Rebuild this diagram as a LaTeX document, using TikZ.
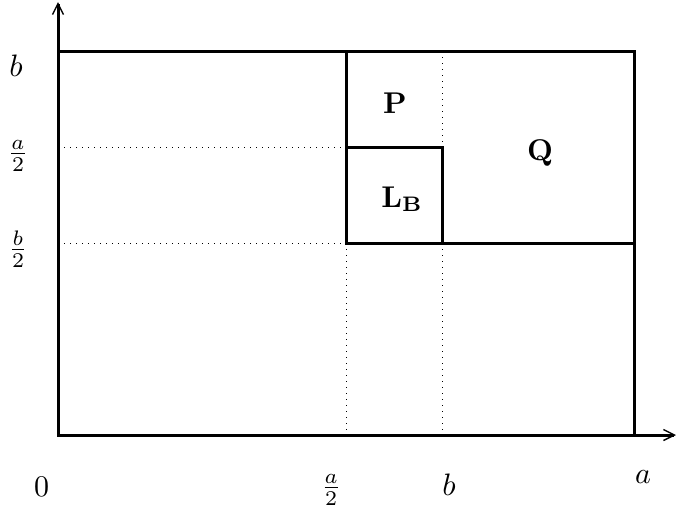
\documentclass[tikz,border=0pt]{standalone}
\usepackage{graphicx}
\usetikzlibrary{arrows.meta}
\begin{document}
\begin{tikzpicture}[x=1pt,y=-1pt,
  thickline/.style={line width=3pt},
  dotline/.style={line width=1pt,dash pattern=on 1pt off 5pt},
  axisline/.style={line width=3pt,-{Straight Barb[length=11pt,width=11pt,line width=1.4pt]}},
  lbl/.style={inner sep=0pt}]
\useasboundingbox (0,0) rectangle (676,512);
% coordinates
\coordinate (O) at (58,435);
\coordinate (ytip) at (58,2);
\coordinate (xtip) at (676,435);
\coordinate (TL) at (58,51);
\coordinate (BR) at (634,435);
\coordinate (m1) at (346,51);
\coordinate (m2) at (346,147);
\coordinate (m3) at (346,243);
\coordinate (m4) at (346,435);
\coordinate (n1) at (442,51);
\coordinate (n2) at (442,147);
\coordinate (n3) at (442,243);
\coordinate (n4) at (442,435);
\coordinate (r3) at (634,243);
\coordinate (d1) at (64,147);
\coordinate (d2) at (64,243);
% dotted lines
\draw[dotline] (d1) -- (m2);
\draw[dotline] (d2) -- (m3);
\draw[dotline] (m3) -- (m4);
\draw[dotline] (n1) -- (n2);
\draw[dotline] (n3) -- (n4);
% solid lines
\draw[thickline] (TL) rectangle (BR);
\draw[thickline] (m1) -- (m3) -- (r3);
\draw[thickline] (m2) -- (n2) -- (n3);
% axes
\draw[axisline] (O) -- (ytip);
\draw[axisline] (O) -- (xtip);
% labels
\node[lbl] (lb) at (16,66) {\scalebox{3.1}{$b$}};
\node[lbl] (la2) at (18,156) {\scalebox{3}{$\frac{a}{2}$}};
\node[lbl] (lb2) at (18,249) {\scalebox{3}{$\frac{b}{2}$}};
\node[lbl] (l0) at (41.5,487) {\scalebox{3}{$0$}};
\node[lbl] (xa2) at (331,490) {\scalebox{3}{$\frac{a}{2}$}};
\node[lbl] (xb) at (449,485) {\scalebox{3.1}{$b$}};
\node[lbl] (xa) at (643,477) {\scalebox{3}{$a$}};
\node[lbl] (P) at (395,103) {\scalebox{3}{$\mathbf{P}$}};
\node[lbl] (Q) at (540,153) {\scalebox{3}{$\mathbf{Q}$}};
\node[lbl] (LB) at (402,199) {\scalebox{3}{$\mathbf{L_B}$}};
\end{tikzpicture}
\end{document}
